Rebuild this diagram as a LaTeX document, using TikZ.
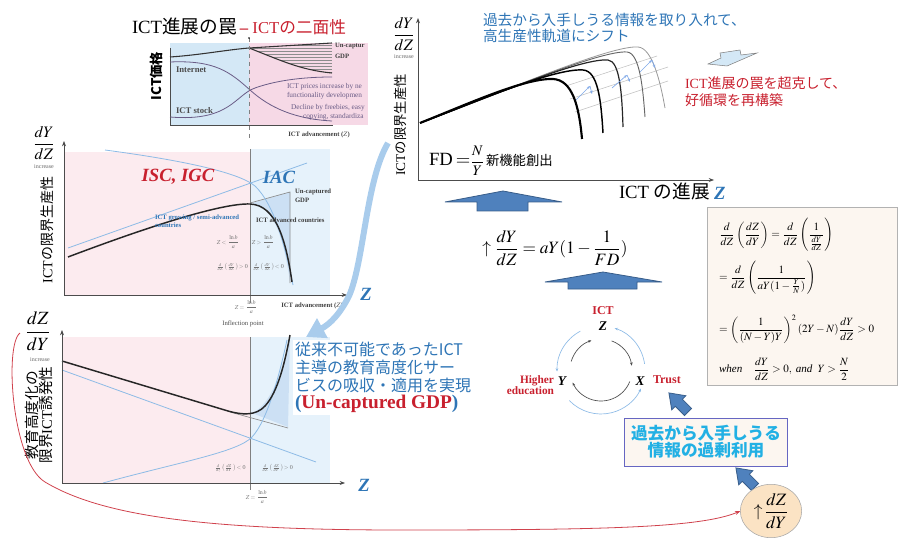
\documentclass[tikz,border=0pt]{standalone}
\usepackage{mathptmx}
\usepackage{amsmath}
\usepackage{fontspec}
\setmainfont{Liberation Serif}
\newfontfamily\jp{Noto Sans CJK JP}
\usetikzlibrary{arrows.meta,shapes.geometric}

\definecolor{txtblue}{HTML}{2E75B6}
\definecolor{txtred}{HTML}{C8202E}
\definecolor{txtcyan}{HTML}{22B0E4}
\definecolor{pinkbg}{HTML}{FCEBEF}
\definecolor{bluebg}{HTML}{E6F2FB}
\definecolor{onebl}{HTML}{D4E8F6}
\definecolor{onepk}{HTML}{F6D9E6}
\definecolor{curveblue}{HTML}{8DBBE6}
\definecolor{purp}{HTML}{6A5C86}
\definecolor{arrfill}{HTML}{4F81BD}
\definecolor{arrline}{HTML}{385D8A}
\definecolor{boxbg}{HTML}{FCF6F0}
\definecolor{ovalbg}{HTML}{FBE3C4}
\definecolor{bigarr}{HTML}{A9CCEC}

\newcommand{\fsz}[1]{\fontsize{#1}{#1}\selectfont}

\begin{document}
\begin{tikzpicture}[x=0.75pt,y=-0.75pt,
  every node/.style={inner sep=0pt, outer sep=0pt},
  axis/.style={draw=black!70, line width=0.5pt},
  axisarr/.style={axis, -{Stealth[length=4pt,width=3pt]}},
  tiny/.style={font=\fsz{5}\bfseries, text=black!75},
  tinymath/.style={font=\fsz{4.5}, text=black!55},
  vjp/.style={font=\fsz{10.5}, rotate=90, align=center},
  bigz/.style={font=\fsz{14}\bfseries\itshape, text=txtblue},
  cycvar/.style={font=\fsz{10}\bfseries\itshape},
  cyclbl/.style={font=\fsz{8.5}\bfseries, text=txtred},
  blockup/.style={fill=arrfill, draw=arrline, line width=0.6pt},
  blueline/.style={draw=curveblue, line width=0.6pt},
  tarr/.style={draw=curveblue!90!blue, line width=0.5pt, -{Stealth[length=2.5pt,width=2pt]}},
  gline/.style={draw=black!25, line width=0.4pt},
  outarc/.style={draw=curveblue, line width=0.5pt, -{Stealth[length=2.5pt,width=2pt]}},
  inarc/.style={draw=black!70, line width=0.5pt, -{Stealth[length=2.5pt,width=2pt]}},
  derivline/.style={anchor=west, font=\fsz{8.3}},
  smallarr/.pic={\filldraw[blockup] (0,-5) -- (13,-5) -- (13,-10) -- (27,0) -- (13,10) -- (13,5) -- (0,5) -- cycle;}]
\useasboundingbox (0,0) rectangle (898,538);

% --- ICT price panel (top left)
\node[anchor=west, font=\fsz{14}] (ttl) at (132,26)
  {ICT{\jp 進展の罠}\,{\color{txtred}\fsz{12.5}\textbf{--} ICT{\jp の二面性}}};
\fill[onebl] (170,43) rectangle (249,125);
\fill[onepk] (249,43) rectangle (368,125);
\begin{scope}
  \clip (249,48) -- (332,43) -- (332,73) .. controls (300,70) and (280,60) .. (249,48);
  \foreach \y in {42,45,...,75}
    \draw[black!45, line width=0.3pt] (249,\y) -- (333,\y);
\end{scope}
\draw[axis] (170,48) -- (170,125) -- (333,125);
\draw[black!80, line width=0.8pt] (170,57) .. controls (200,55) and (225,50) .. (249,48) -- (332,43);
\draw[black!80, line width=0.8pt] (249,48) .. controls (280,60) and (300,70) .. (332,73);
\draw[purp, line width=0.6pt] (170,62) .. controls (215,60) and (230,72) .. (250,90) .. controls (270,108) and (295,119) .. (332,121);
\draw[purp, line width=0.6pt] (170,117) .. controls (230,122) and (235,95) .. (255,88) .. controls (280,79) and (310,77) .. (332,77);
\draw[dashed, black!50, line width=0.4pt] (249,38) -- (249,138);
\fill (249,38) circle (0.8);
\node[rotate=90, font=\jp\fsz{10}\bfseries] (price) at (156,76) {ICT価格};
\node[anchor=west, font=\fsz{6.5}\bfseries, text=black!70] (inet) at (176,70) {Internet};
\node[anchor=west, font=\fsz{6.5}\bfseries, text=black!70] (stock) at (176,111) {ICT stock};
\node[anchor=west, tiny] (unc1) at (335,46) {Un-captur};
\node[anchor=west, tiny] (unc1b) at (335,56) {GDP};
\node[anchor=west, font=\fsz{5.5}, text=purp] (pr1) at (287,87) {ICT prices increase by ne};
\node[anchor=west, font=\fsz{5.5}, text=purp] (pr2) at (287,96) {functionality developmen};
\node[anchor=west, font=\fsz{5.5}, text=purp] (pr3) at (291,108) {Decline by freebies, easy};
\node[anchor=west, font=\fsz{5.5}, text=purp] (pr4) at (303,117) {copying, standardiza};
\node[tiny] (adv1) at (319,135) {ICT advancement ($Z$)};

% --- productivity panel (middle left)
\fill[pinkbg] (64,152) rectangle (250,295);
\fill[bluebg] (250,149) rectangle (330,295);
\fill[curveblue!45] (252,203) -- (290,192) -- (290,282) .. controls (284,240) and (274,206) .. (252,203);
\draw[black!45, line width=0.5pt] (250,203) -- (290,192) -- (290,283);
\draw[black!50, line width=0.5pt] (250,149) -- (250,303);
\draw[blueline] (105,150) .. controls (180,160) and (238,172) .. (255,186) .. controls (275,205) and (286,250) .. (293,285);
\draw[blueline] (68,248) -- (307,163);
\draw[black!85, line width=1.1pt] (68,257) .. controls (150,226) and (222,203) .. (250,204) .. controls (276,205) and (286,240) .. (292,282);
\draw[axisarr] (64,295) -- (64,141);
\draw[axisarr] (64,295) -- (347,295);
\node[font=\fsz{12}] (dydz1) at (44,143) {$\dfrac{dY}{dZ}$};
\node[font=\fsz{4.5}, text=black!60] (inc1) at (44,167) {increase};
\node[vjp] (mp1) at (47,230) {ICT{\jp の限界生産性}};
\node[font=\fsz{14}\bfseries\itshape, text=txtred] (isc) at (178,177) {ISC, IGC};
\node[font=\fsz{14}\bfseries\itshape, text=txtblue] (iac) at (279,177) {IAC};
\node[anchor=west, tiny] (unc2) at (295,192) {Un-captured};
\node[anchor=west, tiny] (unc2b) at (295,200) {GDP};
\node[anchor=west, tiny] (advc) at (256,220) {ICT advanced countries};
\node[anchor=west, tiny, text=txtblue] (grow) at (155,218) {ICT growing / semi-advanced};
\node[anchor=west, tiny, text=txtblue] (grow2) at (155,225) {countries};
\node[tinymath] (zl1) at (228,242) {$Z<\dfrac{\ln b}{a}$};
\node[tinymath] (zg1) at (263,242) {$Z>\dfrac{\ln b}{a}$};
\node[tinymath] (dp1) at (232,267) {$\frac{d}{dZ}\!\left(\frac{dY}{dZ}\right)\!>0$};
\node[tinymath] (dn1) at (268,267) {$\frac{d}{dZ}\!\left(\frac{dY}{dZ}\right)\!<0$};
\node[tinymath] (zeq1) at (246,307) {$Z=\dfrac{\ln b}{a}$};
\node[tiny] (adv2) at (312,306) {ICT advancement ($Z$)};
\node[font=\fsz{5}, text=black!70] (infl) at (243,324) {Inflection point};
\node[bigz] (z1) at (366,294) {Z};

% --- ICT inducement panel (bottom left)
\fill[pinkbg] (62,337) rectangle (250,483);
\fill[bluebg] (250,337) rectangle (330,483);
\fill[curveblue!45] (252,413) .. controls (272,405) and (284,365) .. (290,335) -- (288,427) -- cycle;
\draw[black!50, line width=0.5pt] (250,337) -- (250,490);
\draw[black!45, line width=0.5pt] (230,412) -- (288,428);
\draw[blueline] (62,370) -- (316,462);
\draw[blueline] (103,483) .. controls (180,462) and (238,452) .. (252,437) .. controls (268,420) and (280,372) .. (287,340);
\draw[black!85, line width=1.1pt] (62,361) -- (228,411) .. controls (242,415) and (256,416) .. (265,406) .. controls (278,392) and (285,362) .. (290,335);
\draw[axisarr] (62,483) -- (62,330);
\draw[axisarr] (62,483) -- (345,483);
\node[font=\fsz{14}] (dzdy1) at (38,331) {$\dfrac{dZ}{dY}$};
\node[font=\fsz{4.5}, text=black!60] (inc2) at (40,360) {increase};
\node[font=\fsz{11}, rotate=90, align=center] (ind) at (39,415) {{\jp 教育高度化の}\\{\jp 限界}ICT{\jp 誘発性}};
\node[tinymath] (dn2) at (230,468) {$\frac{d}{dz}\!\left(\frac{dZ}{dY}\right)\!<0$};
\node[tinymath] (dp2) at (277,468) {$\frac{d}{dZ}\!\left(\frac{dZ}{dY}\right)\!>0$};
\node[tinymath] (zeq2) at (257,497) {$Z=\dfrac{\ln b}{a}$};
\node[bigz] (z2) at (364,485) {Z};
\node[anchor=north west, fill=white, inner sep=1.5pt, align=left, font=\jp\fsz{12}, text=txtblue] (absorb) at (293,340)
  {従来不可能であったICT\\[1.5pt]主導の教育高度化サー\\[1.5pt]ビスの吸収・適用を実現\\[1pt]
   {\rmfamily\bfseries\fsz{14.5}(\textcolor{txtred}{Un-captured GDP})}};

% --- big curved arrow
\coordinate (bfrom) at (388,143);
\coordinate (bto) at (306,337);
\draw[bigarr, line width=4.5pt, -{Triangle[length=14pt,width=16pt]}] (bfrom) .. controls (366,180) and (364,262) .. (349,296) .. controls (340,314) and (330,324) .. (bto);

% --- productivity shift panel (top right)
\draw[gline] (566,86) -- (657,56);
\draw[gline] (570,99) -- (668,67);
\draw[gline] (575,112) -- (668,81);
\draw[black!40, line width=0.6pt] (420,123) .. controls (500,93) and (610,45) .. (638,47) .. controls (652,48) and (660,80) .. (665,108);
\draw[black!60, line width=0.7pt] (420,123) .. controls (495,95) and (600,50) .. (627,52) .. controls (640,53) and (643,90) .. (645,117);
\draw[black!85, line width=0.9pt] (420,123) .. controls (490,97) and (580,58) .. (608,60) .. controls (620,61) and (622,95) .. (623,127);
\draw[black, line width=1.1pt] (420,123) .. controls (480,100) and (555,68) .. (583,70) .. controls (598,71) and (601,100) .. (603,133);
\draw[black, line width=1.6pt] (420,123) .. controls (470,103) and (525,78) .. (553,79) .. controls (572,80) and (579,105) .. (582,139);
\draw[tarr] (576,100) -- (590,86);
\draw[tarr] (590,86) -- (592,94);
\draw[tarr] (612,88) -- (627,75);
\draw[tarr] (627,75) -- (630,82);
\draw[tarr] (640,72) -- (652,60);
\draw[tarr] (652,60) -- (655,68);
\draw[axisarr] (418,180) -- (418,18);
\draw[axisarr] (418,180) -- (714,180);
\node[font=\fsz{12}] (dydz2) at (404,34) {$\dfrac{dY}{dZ}$};
\node[font=\fsz{4.5}, text=black!60] (inc3) at (404,57) {increase};
\node[vjp, font=\fsz{10}] (mp2) at (400,125) {ICT{\jp の限界生産性}};
\node[anchor=west, font=\fsz{14}] (prog) at (619,191) {ICT {\jp の進展}};
\node[bigz, anchor=west] (z3) at (714,193) {Z};
\node[anchor=west, align=left, font=\jp\fsz{11}, text=txtblue] (shift) at (483,28) {過去から入手しうる情報を取り入れて、\\[1pt]高生産性軌道にシフト};
\node[anchor=west, align=left, font=\fsz{10.5}, text=txtred] (over) at (685,92) {ICT{\jp 進展の罠を超克して、}\\[2pt]{\jp 好循環を再構築}};
\filldraw[fill=onebl, draw=black!50, line width=0.4pt] (708,64) -- (721,58) -- (720,53) -- (740,50) -- (741,55) -- (757,53) -- (727,66) -- cycle;
\node[anchor=west] (fd) at (429,161) {\fsz{14}FD\,$=$\fsz{11}$\dfrac{N}{Y}$\hspace{-1pt}{\jp\fsz{10} 新機能創出}};

% --- block arrows and equation
\filldraw[blockup] (445,202) -- (503,191) -- (562,202) -- (528,202) -- (528,211) -- (477,211) -- (477,202) -- cycle;
\node[font=\fsz{13}] (eq) at (555,248) {$\uparrow\dfrac{dY}{dZ}=aY(1-\dfrac{1}{FD})$};
\filldraw[blockup] (545,282) -- (603,272) -- (662,282) -- (637,282) -- (637,289) -- (568,289) -- (568,282) -- cycle;

% --- derivation box
\node[draw=black!30, fill=boxbg, minimum width=142.5pt, minimum height=134pt, anchor=north west, line width=0.5pt] (deriv) at (707,207) {};
\node[derivline] (d1) at (719,235) {$\dfrac{d}{dZ}\left(\dfrac{dZ}{dY}\right)=\dfrac{d}{dZ}\left(\dfrac{1}{\frac{dY}{dZ}}\right)$};
\node[derivline] (d2) at (719,278) {$=\dfrac{d}{dZ}\left(\dfrac{1}{aY(1-\frac{Y}{N})}\right)$};
\node[derivline] (d3) at (719,329) {$=\left(\dfrac{1}{(N-Y)Y}\right)^{2}(2Y-N)\dfrac{dY}{dZ}>0$};
\node[derivline] (d4) at (719,369) {$\textit{when}\quad\dfrac{dY}{dZ}>0,\ \textit{and}\ \ Y>\dfrac{N}{2}$};

% --- cycle
\coordinate (cyc) at (601,370);
\node[cyclbl, font=\fsz{9}\bfseries] (ict) at (603,311) {ICT};
\node[cycvar] (nz) at (603,326) {Z};
\node[cycvar] (ny) at (562,381) {Y};
\node[cycvar] (nx) at (640,381) {X};
\node[cyclbl, align=right, anchor=east] (hedu) at (554,385) {Higher\\education};
\node[cyclbl, font=\fsz{9}\bfseries, anchor=west] (trust) at (653,380) {Trust};
\draw[outarc] ([shift={(242:44)}]cyc) arc (242:178:44);
\draw[outarc] ([shift={(136:44)}]cyc) arc (136:25:44);
\draw[outarc] ([shift={(-8:44)}]cyc) arc (-8:-72:44);
\draw[inarc] ([shift={(196:31)}]cyc) arc (196:252:31);
\draw[inarc] ([shift={(290:31)}]cyc) arc (290:352:31);
\draw[inarc] ([shift={(22:31)}]cyc) arc (22:156:31);

% --- overuse box and oval
\pic[rotate=135] at (688,412) {smallarr};
\node[draw=black!40!blue!60, fill=boxbg, line width=0.6pt, minimum width=122pt, minimum height=36pt, align=center,
      font=\jp\fsz{12.5}\bfseries, text=txtcyan] (overuse) at (706,442) {過去から入手しうる\\情報の過剰利用};
\pic[rotate=135] at (755,487) {smallarr};
\node[ellipse, draw=black!35, fill=ovalbg, minimum width=46pt, minimum height=40pt, font=\fsz{13}] (oval) at (771,511) {$\uparrow\!\dfrac{dZ}{dY}$};
\coordinate (rstart) at (20,333);
\draw[txtred!85, line width=0.6pt, -{Stealth[length=4pt,width=3pt]}] (rstart) .. controls (4,345) and (12,462) .. (45,482) .. controls (100,515) and (200,530) .. (400,530) .. controls (600,530) and (700,528) .. (oval.west);
\end{tikzpicture}
\end{document}
